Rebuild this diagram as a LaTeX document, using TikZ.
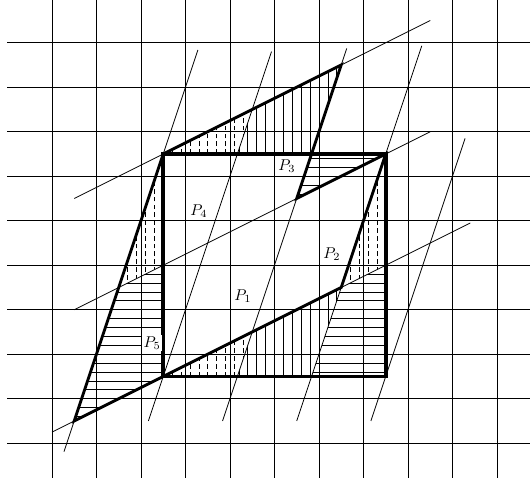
\documentclass[tikz,border=0pt]{standalone}
\begin{document}
\begin{tikzpicture}[x=1cm,y=1cm,
  gridline/.style={line width=0.5pt},
  thinline/.style={line width=0.5pt},
  polyline/.style={line width=1.8pt, line join=miter},
  sqline/.style={line width=2.4pt, line join=miter},
  hatch/.style={line width=0.4pt},
  dhatch/.style={line width=0.4pt, dash pattern=on 3pt off 2pt},
  lab/.style={inner sep=1pt}]
\useasboundingbox (-3.6685,-2.484) rectangle (8.2416,8.4596);
\clip (-3.6685,-2.484) rectangle (8.2416,8.4596);
% grid
\foreach \i in {-2.5,-1.5,...,7.6} \draw[gridline] (\i,-2.28) -- (\i,8.7);
\foreach \j in {-1.5,-0.5,...,7.6} \draw[gridline] (-3.5,\j) -- (8.5,\j);
% named vertices
\coordinate (O) at (0,0);
\coordinate (S1) at (5,0);
\coordinate (S2) at (5,5);
\coordinate (S3) at (0,5);
\coordinate (Q1) at (-2,-1);
\coordinate (Q2) at (4,7);
\coordinate (Q3) at (3,4);
\coordinate (Q4) at (4,2);
% vertical dashed hatching
\begin{scope}\clip (0,0)--(2,1)--(1.66667,0)--cycle;
  \foreach \x in {0.2,0.4,...,1.9} \draw[dhatch] (\x,0)--(\x,1.2);\end{scope}
\begin{scope}\clip (0,5)--(2,6)--(1.66667,5)--cycle;
  \foreach \x in {0.2,0.4,...,1.9} \draw[dhatch] (\x,5)--(\x,6.2);\end{scope}
\begin{scope}\clip (4,2)--(5,2.5)--(5,5)--cycle;
  \foreach \x in {4.2,4.4,...,4.9} \draw[dhatch] (\x,2)--(\x,5);\end{scope}
\begin{scope}\clip (-1,2)--(0,2.5)--(0,5)--cycle;
  \foreach \x in {-0.8,-0.6,...,-0.1} \draw[dhatch] (\x,2)--(\x,5);\end{scope}
% vertical solid hatching
\begin{scope}\clip (1.66667,0)--(2,1)--(4,2)--(3.33333,0)--cycle;
  \foreach \x in {1.7,1.9,...,4.0} \draw[hatch] (\x,0)--(\x,2.1);\end{scope}
\begin{scope}\clip (1.66667,5)--(2,6)--(4,7)--(3.33333,5)--cycle;
  \foreach \x in {1.7,1.9,...,4.0} \draw[hatch] (\x,5)--(\x,7.1);\end{scope}
% horizontal hatching
\begin{scope}\clip (3.33333,0)--(5,0)--(5,2.5)--(4,2)--cycle;
  \foreach \y in {0.1,0.3,...,2.5} \draw[hatch] (3,\y)--(5,\y);\end{scope}
\begin{scope}\clip (-1.66667,0)--(0,0)--(0,2.5)--(-1,2)--cycle;
  \foreach \y in {0.1,0.3,...,2.5} \draw[hatch] (-2,\y)--(0,\y);\end{scope}
\begin{scope}\clip (3,4)--(5,5)--(3.33333,5)--cycle;
  \foreach \y in {4.1,4.3,...,5} \draw[hatch] (3,\y)--(5,\y);\end{scope}
\begin{scope}\clip (-2,-1)--(0,0)--(-1.66667,0)--cycle;
  \foreach \y in {-0.9,-0.7,...,0} \draw[hatch] (-2,\y)--(0,\y);\end{scope}
% thin lattice lines, slope 3
\draw[thinline] (-2.2300,-1.69) -- (0.7787,7.336);
\draw[thinline] (-0.33333,-1) -- (2.4333,7.3);
\draw[thinline] (1.33333,-1) -- (4.1233,7.37);
\draw[thinline] (3,-1) -- (5.81,7.43);
\draw[thinline] (4.66667,-1) -- (6.7833,5.35);
% thin lattice lines, slope 1/2
\draw[thinline] (-2,4) -- (6,8);
\draw[thinline] (-2,1.5) -- (6,5.5);
\draw[thinline] (-2.5,-1.25) -- (6.9,3.45);
% thick outlines
\draw[polyline] (Q1)--(S3)--(Q2)--(Q3)--(S2)--(Q4)--(O)--cycle;
\draw[sqline] (O) rectangle (S2);
% labels
\node[lab] (p1) at (1.79,1.81) {$P_1$};
\node[lab] (p2) at (3.79,2.75) {$P_2$};
\node[lab] (p3) at (2.78,4.73) {$P_3$};
\node[lab] (p4) at (0.80,3.72) {$P_4$};
\node[lab,fill=white] (p5) at (-0.25,0.75) {$P_5$};
\end{tikzpicture}
\end{document}
